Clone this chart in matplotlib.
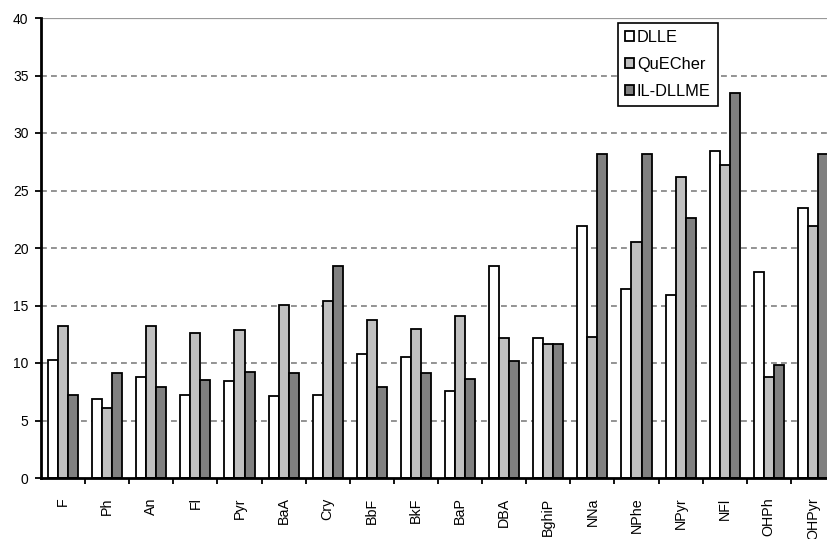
import numpy as np
import matplotlib
matplotlib.use("Agg")
import matplotlib.pyplot as plt

plt.rcParams['font.family'] = ['Liberation Sans', 'DejaVu Sans']

compounds = ["F", "Ph", "An", "Fl", "Pyr", "BaA", "Cry", "BbF", "BkF", "BaP",
             "DBA", "BghiP", "NNa", "NPhe", "NPyr", "NFl", "OHPh", "OHPyr"]
dlle = [10.3, 6.9, 8.8, 7.25, 8.45, 7.1, 7.25, 10.8, 10.5, 7.6,
        18.45, 12.2, 21.9, 16.4, 15.9, 28.4, 17.9, 23.5]
quecher = [13.2, 6.1, 13.2, 12.65, 12.85, 15.05, 15.4, 13.7, 13.0, 14.05,
           12.2, 11.65, 12.3, 20.5, 26.2, 27.2, 8.8, 21.9]
il_dllme = [7.25, 9.15, 7.9, 8.5, 9.25, 9.15, 18.45, 7.9, 9.15, 8.6,
            10.15, 11.65, 28.2, 28.2, 22.6, 33.5, 9.8, 28.2]

series = [("DLLE", dlle, "#ffffff"),
          ("QuECher", quecher, "#c0c0c0"),
          ("IL-DLLME", il_dllme, "#808080")]

fig = plt.figure(figsize=(8.27, 5.39), dpi=100)
# the plot area runs slightly past the right edge of the figure
ax = fig.add_axes([41 / 827, 61 / 539, 794 / 827, 460 / 539])

x = np.arange(len(compounds))
w = 0.227
for i, (name, vals, col) in enumerate(series):
    ax.bar(x + (i - 1) * w, vals, width=w, color=col, edgecolor="black",
           linewidth=1.3, label=name, zorder=3)

ax.set_xlim(-0.5, len(compounds) - 0.5)
ax.set_ylim(0, 40)
ax.set_yticks(np.arange(0, 41, 5))
for yv in np.arange(5, 40, 5):
    ax.axhline(yv, color="#808080", lw=1.2, ls=(0, (3.5, 2.5)), zorder=1)
ax.axhline(40, color="#999999", lw=1.6, zorder=1)

ax.set_xticks(x)
ax.set_xticklabels(compounds, rotation=90, fontsize=10.3)
ax.set_xticks(np.arange(0.5, len(compounds) - 0.5, 1), minor=True)
ax.tick_params(axis="x", which="major", length=0, pad=14)
ax.tick_params(axis="x", which="minor", length=4, width=1.3, direction="out")
ax.tick_params(axis="y", length=4, width=1.3, labelsize=10, pad=5)

for s in ["top", "right"]:
    ax.spines[s].set_visible(False)
for s in ["left", "bottom"]:
    ax.spines[s].set_linewidth(2)
    ax.spines[s].set_zorder(4)

leg = ax.legend(loc="upper left", bbox_to_anchor=(0.7267, 0.99), fontsize=11.8,
                frameon=True, fancybox=False, framealpha=1, edgecolor="black",
                handlelength=0.55, handleheight=0.55, handletextpad=0.15,
                labelspacing=0.72, borderpad=0.45, borderaxespad=0)
leg.get_frame().set_linewidth(1.2)
leg.set_zorder(5)

fig.savefig("out.png", dpi=100)
